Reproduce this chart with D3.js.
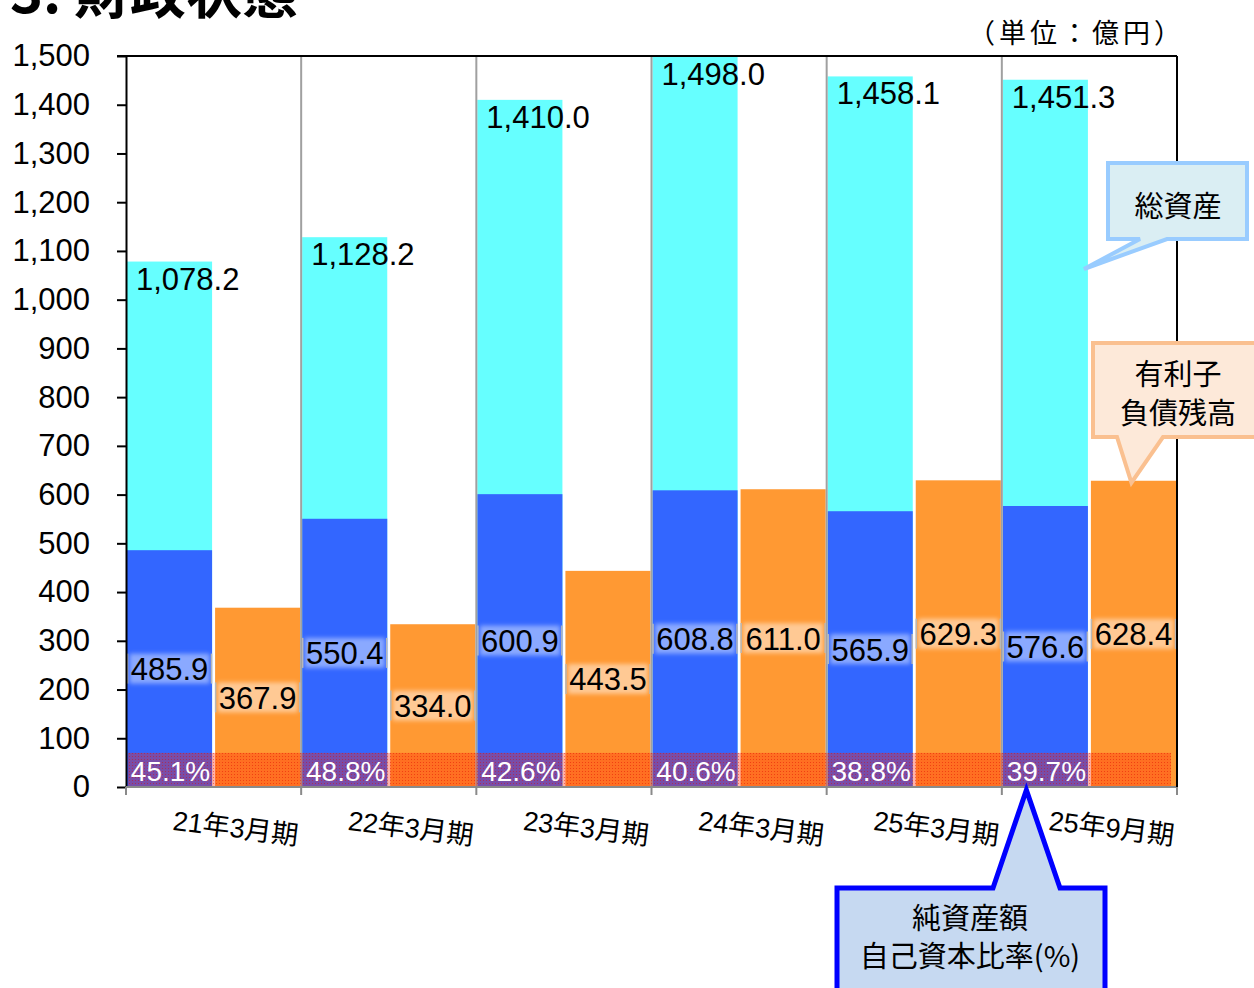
<!DOCTYPE html>
<html lang="ja">
<head>
<meta charset="utf-8">
<script src="https://cdn.jsdelivr.net/npm/d3@7/dist/d3.min.js"></script>
<style>
  html, body { margin: 0; padding: 0; background: #fff; }
  svg { display: block; }
  text { font-family: "Liberation Sans", Arial, "Noto Sans CJK JP", sans-serif; }
  .jp { font-family: "Noto Sans CJK JP", "Liberation Sans", sans-serif; }
</style>
</head>
<body>
<svg id="chart" width="1254" height="988"></svg>
<script>
// 財政状態（単位：億円）
const categories   = ["21年3月期", "22年3月期", "23年3月期", "24年3月期", "25年3月期", "25年9月期"];
const totalAssets  = [1078.2, 1128.2, 1410.0, 1498.0, 1458.1, 1451.3];   // 総資産
const netAssets    = [485.9, 550.4, 600.9, 608.8, 565.9, 576.6];         // 純資産額
const interestDebt = [367.9, 334.0, 443.5, 611.0, 629.3, 628.4];         // 有利子負債残高
const equityRatio  = [45.1, 48.8, 42.6, 40.6, 38.8, 39.7];               // 自己資本比率(%)
const yTicks       = [0, 100, 200, 300, 400, 500, 600, 700, 800, 900, 1000, 1100, 1200, 1300, 1400, 1500];

const COLORS = {
  total: "#66ffff",
  net: "#3366ff",
  debt: "#ff9933",
  netHalo: "#8aa9ff",
  debtHalo: "#ffc994"
};

const svg = d3.select("#chart");
const plot = { left: 126, right: 1177, top: 56, bottom: 787 };

const x = d3.scaleBand().domain(categories).range([plot.left, plot.right]).padding(0);
const slot = d3.scaleBand().domain(["asset", "debt"])
  .range([1, x.bandwidth() - 1]).paddingInner(0.034).paddingOuter(0);
const y = d3.scaleLinear().domain([0, 1500]).range([plot.bottom, plot.top]);

const fmtVal = d3.format(",.1f");
const fmtTick = d3.format(",");

const rows = categories.map((c, i) => ({
  cat: c, total: totalAssets[i], net: netAssets[i], debt: interestDebt[i], ratio: equityRatio[i]
}));

// defs: band texture and halo blur
const defs = svg.append("defs");
const pat = defs.append("pattern").attr("id", "dots")
  .attr("width", 3).attr("height", 3).attr("patternUnits", "userSpaceOnUse");
pat.append("rect").attr("width", 3).attr("height", 3).attr("fill", "#ff1e00").attr("opacity", 0.34);
pat.append("rect").attr("width", 1).attr("height", 1).attr("fill", "#e00800").attr("opacity", 0.45);
defs.append("filter").attr("id", "soft").attr("x", "-20%").attr("y", "-30%").attr("width", "140%").attr("height", "160%")
  .append("feGaussianBlur").attr("stdDeviation", 2.2);

// title (partly above the page edge)
svg.append("text").attr("class", "jp")
  .attr("x", 10).attr("y", 13)
  .attr("font-size", 56).attr("font-weight", "bold").attr("fill", "#000")
  .text("3. 財政状態");

// unit
svg.append("text").attr("class", "jp")
  .attr("x", 968).attr("y", 31).attr("dominant-baseline", "central")
  .attr("font-size", 27).attr("letter-spacing", 4).attr("fill", "#000")
  .text("（単位：億円）");

const g = svg.append("g");

// total assets
g.selectAll("rect.total").data(rows).join("rect").attr("class", "total")
  .attr("x", d => x(d.cat) + slot("asset")).attr("width", slot.bandwidth())
  .attr("y", d => y(d.total)).attr("height", d => y(0) - y(d.total))
  .attr("fill", COLORS.total);

// net assets
g.selectAll("rect.net").data(rows).join("rect").attr("class", "net")
  .attr("x", d => x(d.cat) + slot("asset")).attr("width", slot.bandwidth())
  .attr("y", d => y(d.net)).attr("height", d => y(0) - y(d.net))
  .attr("fill", COLORS.net);

// interest-bearing debt
g.selectAll("rect.debt").data(rows).join("rect").attr("class", "debt")
  .attr("x", d => x(d.cat) + slot("debt")).attr("width", slot.bandwidth())
  .attr("y", d => y(d.debt)).attr("height", d => y(0) - y(d.debt))
  .attr("fill", COLORS.debt);

// vertical separators between periods
g.selectAll("line.sep").data(categories.slice(1)).join("line").attr("class", "sep")
  .attr("x1", d => x(d)).attr("x2", d => x(d))
  .attr("y1", plot.top).attr("y2", plot.bottom)
  .attr("stroke", "#a0a0a0").attr("stroke-width", 2);

// equity-ratio band along the base
const BAND_VALUE = 70;
g.append("rect")
  .attr("x", plot.left + 2).attr("width", plot.right - plot.left - 8)
  .attr("y", y(BAND_VALUE)).attr("height", y(0) - y(BAND_VALUE))
  .attr("fill", "url(#dots)");

// equity ratio labels
g.selectAll("text.ratio").data(rows).join("text").attr("class", "ratio")
  .attr("x", d => x(d.cat) + slot("asset") + slot.bandwidth() / 2 + 1)
  .attr("y", (y(0) + y(BAND_VALUE)) / 2 + 2)
  .attr("text-anchor", "middle").attr("dominant-baseline", "central")
  .attr("font-size", 28).attr("fill", "#fff")
  .text(d => d.ratio.toFixed(1) + "%");

// total asset labels
g.selectAll("text.totalLbl").data(rows).join("text").attr("class", "totalLbl")
  .attr("x", d => x(d.cat) + slot("asset") + 9)
  .attr("y", d => y(d.total) + 28)
  .attr("font-size", 31).attr("fill", "#000")
  .text(d => fmtVal(d.total));

// haloed labels centred in the bar
function haloLabels(cls, key, slotKey, halo) {
  const lg = g.selectAll("g." + cls).data(rows).join("g").attr("class", cls)
    .attr("transform", d => {
      const cx = x(d.cat) + slot(slotKey) + slot.bandwidth() / 2;
      const cy = (y(d[key]) + y(0)) / 2;
      return `translate(${cx},${cy})`;
    });
  lg.append("rect")
    .attr("x", -40).attr("y", -15).attr("width", 80).attr("height", 30)
    .attr("fill", halo).attr("filter", "url(#soft)");
  lg.append("line").attr("x1", -42).attr("x2", -42).attr("y1", -15).attr("y2", 15)
    .attr("stroke", "#b8b8b8").attr("stroke-width", 1.5);
  lg.append("line").attr("x1", 42).attr("x2", 42).attr("y1", -15).attr("y2", 15)
    .attr("stroke", "#b8b8b8").attr("stroke-width", 1.5);
  lg.append("text")
    .attr("text-anchor", "middle").attr("dominant-baseline", "central")
    .attr("y", 1)
    .attr("font-size", 31).attr("fill", "#000")
    .text(d => fmtVal(d[key]));
}
haloLabels("netLbl", "net", "asset", COLORS.netHalo);
haloLabels("debtLbl", "debt", "debt", COLORS.debtHalo);

// y axis
const yAxis = d3.axisLeft(y).tickValues(yTicks).tickFormat(fmtTick)
  .tickSizeInner(9).tickSizeOuter(0).tickPadding(27);
const ya = svg.append("g").attr("transform", `translate(${plot.left},0)`).call(yAxis);
ya.select(".domain").attr("stroke", "#000").attr("stroke-width", 2);
ya.selectAll(".tick line").attr("stroke", "#000").attr("stroke-width", 2);
ya.selectAll(".tick text").attr("font-size", 31).attr("fill", "#000")
  .attr("font-family", "'Liberation Sans', Arial, sans-serif");

// x axis: baseline with boundary ticks
const bounds = categories.map(c => x(c)).concat([plot.right]);
svg.append("line")
  .attr("x1", plot.left).attr("x2", plot.right).attr("y1", plot.bottom).attr("y2", plot.bottom)
  .attr("stroke", "#8a8a8a").attr("stroke-width", 2);
svg.selectAll("line.xtick").data(bounds).join("line").attr("class", "xtick")
  .attr("x1", d => d).attr("x2", d => d).attr("y1", plot.bottom).attr("y2", plot.bottom + 8)
  .attr("stroke", "#8a8a8a").attr("stroke-width", 2);

// frame: top and right
svg.append("line").attr("x1", plot.left - 9).attr("x2", plot.right).attr("y1", plot.top).attr("y2", plot.top)
  .attr("stroke", "#000").attr("stroke-width", 2);
svg.append("line").attr("x1", plot.right).attr("x2", plot.right).attr("y1", plot.top).attr("y2", plot.bottom)
  .attr("stroke", "#000").attr("stroke-width", 2);

// category labels, slightly tilted
svg.selectAll("text.cat").data(categories).join("text").attr("class", "cat")
  .attr("transform", d => `translate(${x(d) + x.bandwidth() - 4},${plot.bottom + 58}) rotate(7)`)
  .attr("text-anchor", "end")
  .attr("font-size", 27).attr("fill", "#000")
  .text(d => d);

// callouts
function callout(path, fill, stroke, sw, lines, cx, cy, lh) {
  const cg = svg.append("g");
  cg.append("path").attr("d", path).attr("fill", fill)
    .attr("stroke", stroke).attr("stroke-width", sw).attr("stroke-linejoin", "miter");
  lines.forEach((t, i) => {
    cg.append("text").attr("class", "jp")
      .attr("x", cx).attr("y", cy + i * lh)
      .attr("text-anchor", "middle").attr("dominant-baseline", "central")
      .attr("font-size", 29).attr("fill", "#000")
      .text(t);
  });
}

// 総資産 — points at the last total-assets bar
const taTip = [x(categories[5]) + slot("asset") + slot.bandwidth() - 4, 269];
callout(`M1108,163 H1247 V239 H1167 L${taTip[0]},${taTip[1]} L1140,239 H1108 Z`,
  "#daeef3", "#99ccff", 4, ["総資産"], 1178, 204, 0);

// 有利子負債残高 — points at the last debt bar
const dTip = [x(categories[5]) + slot("debt") + slot.bandwidth() / 2 - 2, y(interestDebt[5]) + 2];
callout(`M1093,343 H1262 V437 H1163 L${dTip[0]},${dTip[1]} L1117,437 H1093 Z`,
  "#fde9d9", "#fac090", 4, ["有利子", "負債残高"], 1178, 372, 39);

// 純資産額 / 自己資本比率 — points at the last ratio label
const nTip = [x(categories[5]) + slot("asset") + slot.bandwidth() / 2 - 19, plot.bottom + 3];
callout(`M837,888 H993 L${nTip[0]},${nTip[1]} L1060,888 H1105 V1000 H837 Z`,
  "#c6d9f1", "#0000ff", 5, ["純資産額", "自己資本比率(%)"], 970, 916, 38);
</script>
</body>
</html>
